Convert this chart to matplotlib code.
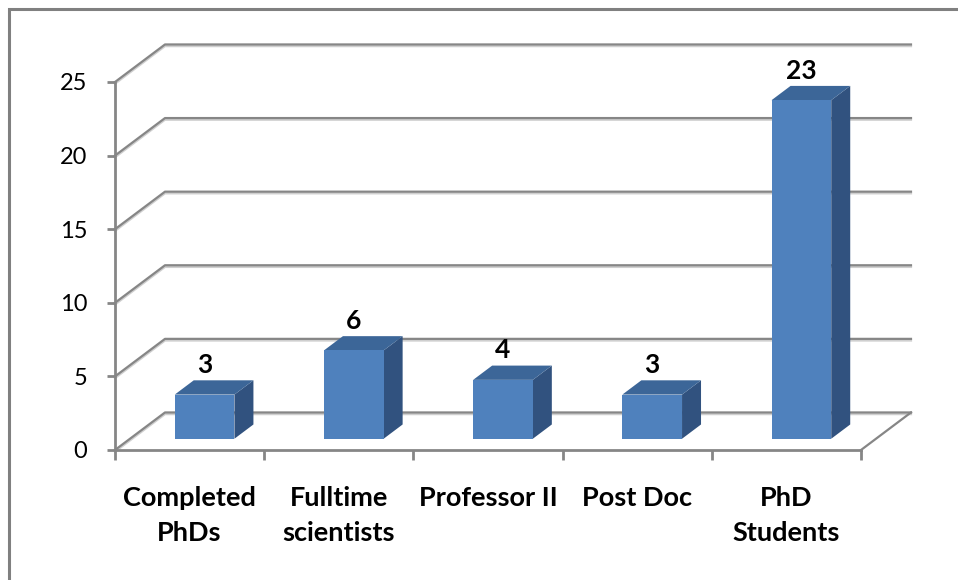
import matplotlib.pyplot as plt
import matplotlib.patheffects as pe
from matplotlib.patches import Polygon, Rectangle

categories = ['Completed\nPhDs', 'Fulltime\nscientists', 'Professor II', 'Post Doc', 'PhD\nStudents']
counts = [3, 6, 4, 3, 23]
y_ticks = [0, 5, 10, 15, 20, 25]

FRONT = '#4F81BD'
TOP = '#3C6698'
SIDE = '#31527F'
GRID = '#868686'

# oblique depth vector (data units) and where the bars sit in depth
DX, DY = 0.335, 2.55
D0, DEPTH = 0.3, 0.38
BAR_W = 0.4


def shift(x, y, d):
    return x + d * DX, y + d * DY


def main():
    plt.rcParams['font.family'] = ['Lato', 'DejaVu Sans']
    fig = plt.figure(figsize=(9.58, 5.8), dpi=100)
    fig.patch.set_facecolor('white')

    # chart frame
    fig.add_artist(Rectangle((9 / 958, -0.05), 1.0, 1 - 9 / 580 + 0.05,
                             transform=fig.transFigure, fill=False,
                             edgecolor='#808080', linewidth=2.2))

    ax = fig.add_axes([115 / 958, 130 / 580, 746 / 958, 368 / 580])
    ax.set_xlim(-0.5, 4.5)
    ax.set_ylim(0, 25)
    ax.patch.set_alpha(0)
    for s in ['top', 'right']:
        ax.spines[s].set_visible(False)
    for s in ['left', 'bottom']:
        ax.spines[s].set_color(GRID)
        ax.spines[s].set_linewidth(2)
        ax.spines[s].set_zorder(1)

    ax.set_yticks(y_ticks)
    ax.tick_params(axis='y', direction='out', length=6, width=2, color=GRID,
                   labelsize=17, pad=14)
    ax.set_xticks([i - 0.5 for i in range(len(categories) + 1)])
    ax.set_xticklabels([])
    ax.tick_params(axis='x', direction='out', length=7, width=2, color=GRID)

    shadow = [pe.SimpleLineShadow(offset=(0, -1.2), shadow_color='#cfcfcf', alpha=1),
              pe.Normal()]

    # back wall gridlines with the receding edge on the left
    x0, x1 = -0.5, len(categories) - 0.5
    for v in y_ticks:
        bx, by = shift(x0, v, 1)
        ex, _ = shift(x1, v, 1)
        ax.plot([x0, bx, ex], [v, by, by], color=GRID, lw=1.6,
                clip_on=False, zorder=0, path_effects=shadow)
    # right edge of the floor
    fx, fy = shift(x1, 0, 1)
    ax.plot([x1, fx], [0, fy], color=GRID, lw=1.6, clip_on=False, zorder=0)

    for i, v in enumerate(counts):
        l, b = shift(i - BAR_W / 2, 0, D0)
        r = l + BAR_W
        t = b + v
        front = [(l, b), (r, b), (r, t), (l, t)]
        top = [(l, t), (r, t), shift(r, t, DEPTH), shift(l, t, DEPTH)]
        side = [(r, b), shift(r, b, DEPTH), shift(r, t, DEPTH), (r, t)]
        ax.add_patch(Polygon(side, closed=True, facecolor=SIDE, edgecolor='none',
                             clip_on=False, zorder=3))
        ax.add_patch(Polygon(top, closed=True, facecolor=TOP, edgecolor='none',
                             clip_on=False, zorder=3))
        ax.add_patch(Polygon(front, closed=True, facecolor=FRONT, edgecolor='none',
                             clip_on=False, zorder=4))
        ax.annotate(str(v), xy=(i + D0 * DX, t + DEPTH * DY), xytext=(0, 11),
                    textcoords='offset points', ha='center', va='center',
                    fontsize=19, fontweight='bold', annotation_clip=False)

    for i, name in enumerate(categories):
        ax.annotate(name, xy=(i, 0), xycoords=('data', 'axes fraction'),
                    xytext=(0, -26), textcoords='offset points',
                    ha='center', va='top', fontsize=19.5, fontweight='bold',
                    linespacing=1.55, annotation_clip=False)

    fig.savefig('out.png', dpi=100)


if __name__ == '__main__':
    main()
